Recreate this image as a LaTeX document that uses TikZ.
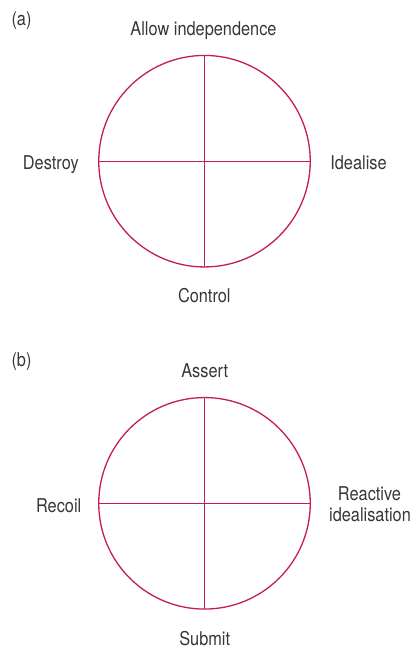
\documentclass[tikz,border=0pt]{standalone}
\usepackage{fontspec}
\setmainfont{TeX Gyre Heros}[FakeStretch=0.86]
\definecolor{ringc}{RGB}{196,30,78}
\definecolor{ink}{RGB}{55,55,55}
\begin{document}
\begin{tikzpicture}[x=1pt,y=-1pt,
  lbl/.style={font=\fontsize{19}{22}\selectfont, text=ink, inner sep=0pt, anchor=base},
  wheel/.style={circle, draw=ringc, line width=1.3pt, minimum size=211.5pt, inner sep=0pt, outer sep=0pt},
  axis/.style={draw=ringc, line width=1.3pt}]
\useasboundingbox (0,0) rectangle (411,648);
% (a)
\node[lbl] (la) at (21.5,25) {(a)};
\node[wheel] (A) at (204.5,161.2) {};
\draw[axis] (A.north) -- (A.south);
\draw[axis] (A.west) -- (A.east);
\node[lbl] (a1) at (203.5,35) {Allow independence};
\node[lbl] (a2) at (50.8,169) {Destroy};
\node[lbl] (a3) at (358.5,169) {Idealise};
\node[lbl] (a4) at (204.3,302) {Control};
% (b)
\node[lbl] (lb) at (21.5,366) {(b)};
\node[wheel] (B) at (204.5,503.3) {};
\draw[axis] (B.north) -- (B.south);
\draw[axis] (B.west) -- (B.east);
\node[lbl] (b1) at (204.7,377) {Assert};
\node[lbl] (b2) at (58.7,512) {Recoil};
\node[lbl] (b3) at (369.5,500) {Reactive};
\node[lbl] (b3b) at (370,521.7) {idealisation};
\node[lbl] (b4) at (204.7,645) {Submit};
\end{tikzpicture}
\end{document}
